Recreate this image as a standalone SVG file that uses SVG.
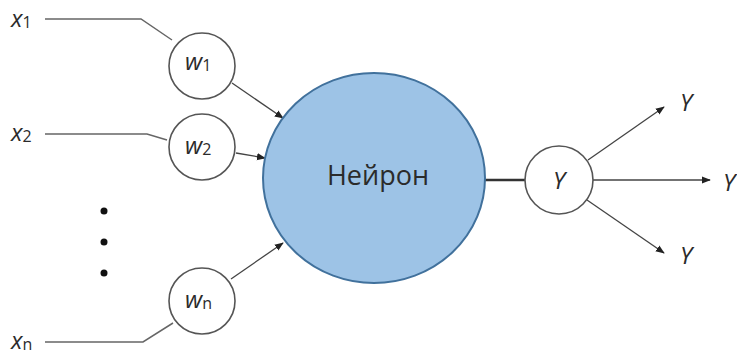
<svg xmlns="http://www.w3.org/2000/svg" width="737" height="356" viewBox="0 0 737 356">
  <defs>
    <marker id="arrow" viewBox="0 0 10 10" refX="9" refY="5" markerWidth="9" markerHeight="9" markerUnits="userSpaceOnUse" orient="auto">
      <path d="M0,1 L10,5 L0,9 z" fill="#222"/>
    </marker>
    <style>
      .lbl { font-family: "Open Sans", "Liberation Sans", sans-serif; fill: #2b2b2b; }
      .var { font-style: italic; font-size: 24px; }
      .sub { font-size: 16px; font-style: normal; }
      .wire { fill: none; stroke: #666; stroke-width: 1.5; }
      .arr { fill: none; stroke: #444; stroke-width: 1.3; marker-end: url(#arrow); }
      .node { fill: #fff; stroke: #555; stroke-width: 1.6; }
    </style>
  </defs>
  <rect width="737" height="356" fill="#fff"/>

  <!-- inputs and weight links -->
  <g id="connectors">
    <polyline class="wire" points="45,19 141,19 172,40"/>
    <polyline class="wire" points="45,134 147,134 167,140"/>
    <polyline class="wire" points="45,342 143,342 173,323"/>
    <line class="arr" x1="232" y1="83" x2="283" y2="118"/>
    <line class="arr" x1="236" y1="153" x2="265" y2="158"/>
    <line class="arr" x1="231" y1="279" x2="283" y2="243"/>
    <line x1="485" y1="180" x2="525" y2="180" stroke="#333" stroke-width="2.6"/>
    <line class="arr" x1="588" y1="160" x2="664" y2="107"/>
    <line class="arr" x1="593" y1="180" x2="710" y2="180"/>
    <line class="arr" x1="587" y1="200" x2="664" y2="253"/>
  </g>

  <g id="x1"><text class="lbl var" x="11" y="27">x<tspan class="sub" dy="1">1</tspan></text></g>
  <g id="x2"><text class="lbl var" x="11" y="141">x<tspan class="sub" dy="1">2</tspan></text></g>
  <g id="xn"><text class="lbl var" x="11" y="349">x<tspan class="sub" dy="1">n</tspan></text></g>

  <g id="dots" fill="#111">
    <circle cx="104" cy="211" r="3.5"/>
    <circle cx="104" cy="242" r="3.5"/>
    <circle cx="104" cy="273" r="3.5"/>
  </g>

  <g id="w1">
    <circle class="node" cx="202" cy="66" r="33"/>
    <text class="lbl var" x="185" y="70">w<tspan class="sub" dy="1">1</tspan></text>
  </g>
  <g id="w2">
    <circle class="node" cx="202" cy="147" r="33"/>
    <text class="lbl var" x="185" y="154">w<tspan class="sub" dy="1">2</tspan></text>
  </g>
  <g id="wn">
    <circle class="node" cx="202" cy="301" r="33"/>
    <text class="lbl var" x="185" y="308">w<tspan class="sub" dy="1">n</tspan></text>
  </g>

  <g id="neuron">
    <ellipse cx="374" cy="178" rx="111" ry="105" fill="#9DC3E6" stroke="#41719C" stroke-width="2"/>
    <text class="lbl" x="378" y="185" font-size="27" text-anchor="middle" fill="#1a1a1a">Нейрон</text>
  </g>

  <g id="y">
    <circle class="node" cx="559" cy="180" r="34"/>
    <text class="lbl var" x="559" y="189" font-size="24" text-anchor="middle">Y</text>
  </g>

  <g id="y-out-top"><text class="lbl var" x="680" y="111" font-size="24">Y</text></g>
  <g id="y-out-mid"><text class="lbl var" x="723" y="191" font-size="24">Y</text></g>
  <g id="y-out-bottom"><text class="lbl var" x="680" y="264" font-size="24">Y</text></g>
</svg>
